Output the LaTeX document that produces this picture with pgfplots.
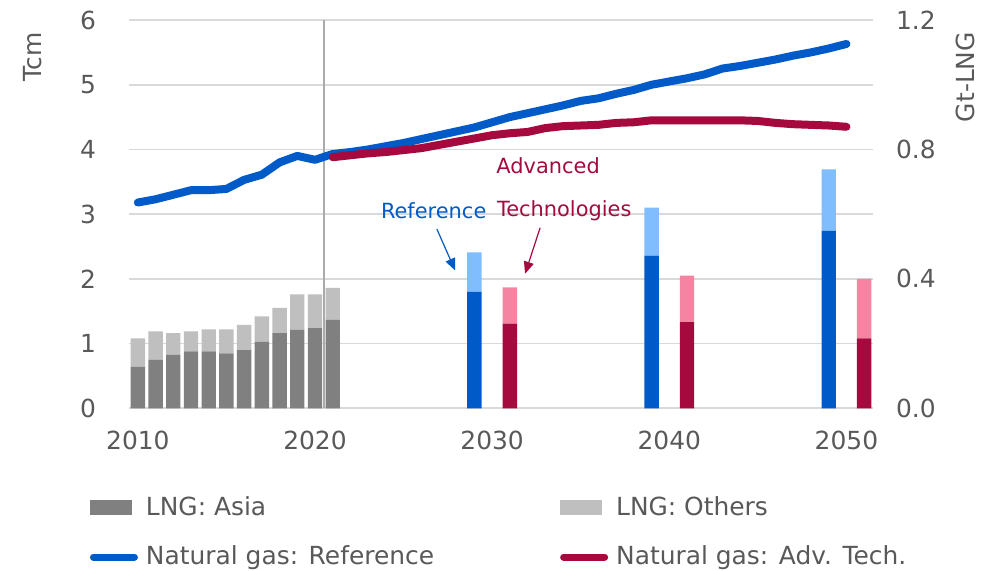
\documentclass[border=0pt]{standalone}
\usepackage{pgfplots}
\pgfplotsset{compat=1.18}
\usepackage{pgfplotstable}
\usepackage{fontspec}
\setmainfont{DejaVu Sans}
\usetikzlibrary{arrows.meta}
\definecolor{refblue}{RGB}{0,90,200}
\definecolor{lightblue}{RGB}{128,189,255}
\definecolor{crimson}{RGB}{166,9,61}
\definecolor{pink}{RGB}{244,132,162}
\definecolor{darkbar}{RGB}{128,128,128}
\definecolor{lightbar}{RGB}{191,191,191}
\definecolor{gridgray}{RGB}{217,217,217}
\definecolor{txtgray}{RGB}{89,89,89}
\definecolor{vgray}{RGB}{170,170,170}

% LNG trade, Gt-LNG
\pgfplotstableread{
year asia others refA refB advA advB
2010 0.128 0.088 0 0 0 0
2011 0.150 0.088 0 0 0 0
2012 0.166 0.066 0 0 0 0
2013 0.176 0.062 0 0 0 0
2014 0.176 0.068 0 0 0 0
2015 0.170 0.074 0 0 0 0
2016 0.180 0.078 0 0 0 0
2017 0.206 0.078 0 0 0 0
2018 0.232 0.078 0 0 0 0
2019 0.242 0.110 0 0 0 0
2020 0.248 0.104 0 0 0 0
2021 0.274 0.098 0 0 0 0
2029 0 0 0.360 0.122 0 0
2031 0 0 0 0 0.262 0.112
2039 0 0 0.472 0.148 0 0
2041 0 0 0 0 0.266 0.144
2049 0 0 0.548 0.190 0 0
2051 0 0 0 0 0.216 0.184
}\lngdata

% Natural gas demand, Tcm
\pgfplotstableread{
year val
2010 3.18
2011 3.23
2012 3.30
2013 3.37
2014 3.37
2015 3.39
2016 3.53
2017 3.61
2018 3.80
2019 3.90
2020 3.84
2021 3.93
2022 3.96
2023 4.00
2024 4.05
2025 4.10
2026 4.16
2027 4.22
2028 4.28
2029 4.34
2030 4.42
2031 4.50
2032 4.56
2033 4.62
2034 4.68
2035 4.75
2036 4.79
2037 4.86
2038 4.92
2039 5.00
2040 5.05
2041 5.10
2042 5.16
2043 5.25
2044 5.29
2045 5.34
2046 5.39
2047 5.45
2048 5.50
2049 5.56
2050 5.63
}\refgas

\pgfplotstableread{
year val
2021 3.88
2022 3.91
2023 3.94
2024 3.96
2025 3.99
2026 4.02
2027 4.07
2028 4.12
2029 4.17
2030 4.22
2031 4.25
2032 4.27
2033 4.33
2034 4.36
2035 4.37
2036 4.38
2037 4.41
2038 4.42
2039 4.45
2040 4.45
2041 4.45
2042 4.45
2043 4.45
2044 4.45
2045 4.44
2046 4.41
2047 4.39
2048 4.38
2049 4.37
2050 4.35
}\advgas

\pgfplotsset{
  common/.style={
    at={(64.5bp,81.35bp)}, anchor=south west,
    scale only axis, width=372bp, height=194.15bp,
    xmin=2009.5, xmax=2051.5,
    axis line style={draw=none},
    major tick length=0pt,
    clip mode=individual,
    /pgf/number format/assume math mode=true,
    tick label style={font=\fontsize{12.5}{15}\selectfont, text=txtgray},
  }
}

\begin{document}
\begin{tikzpicture}
\path[use as bounding box] (0,0) rectangle (494bp,285.5bp);

% left axis: grid, gas lines, x ticks
\begin{axis}[common,
  ymin=0, ymax=6, ytick={0,1,...,6},
  xtick={2010,2020,2030,2040,2050},
  xticklabel style={/pgf/number format/1000 sep={}, yshift=-8bp},
  yticklabel style={xshift=-13bp},
  ymajorgrids, grid style={draw=gridgray, line width=0.8bp},
]
\draw[vgray, line width=1bp] (axis cs:2020.5,0) -- (axis cs:2020.5,6);
\addplot[refblue, line width=4bp, line cap=round, line join=round] table[x=year,y=val] {\refgas};
\addplot[crimson, line width=4bp, line cap=round, line join=round] table[x=year,y=val] {\advgas};
\node[font=\fontsize{10.5}{12}\selectfont, text=crimson] at (axis cs:2033.16,3.75) {Advanced};
\node[font=\fontsize{10.5}{12}\selectfont, text=crimson] at (axis cs:2034.07,3.05) {Technologies};
\node[font=\fontsize{10.5}{12}\selectfont, text=refblue] at (axis cs:2026.7,3.05) {Reference};
\draw[refblue, line width=0.6bp, -{Triangle[length=6bp,width=5bp]}] (axis cs:2026.88,2.77) -- (axis cs:2027.91,2.13);
\draw[crimson, line width=0.6bp, -{Triangle[length=6bp,width=5bp]}] (axis cs:2032.71,2.79) -- (axis cs:2031.86,2.08);
\node[rotate=90, font=\fontsize{12.5}{15}\selectfont, text=txtgray] at (axis description cs:-0.130,0.905) {Tcm};
\node[rotate=90, font=\fontsize{12.5}{15}\selectfont, text=txtgray] at (axis description cs:1.124,0.853) {Gt-LNG};
\end{axis}

% right axis: LNG bars, legend
\begin{axis}[common,
  ymin=0, ymax=1.2, ytick={0,0.4,0.8,1.2},
  xtick=\empty,
  yticklabel pos=right,
  yticklabel style={/pgf/number format/fixed, /pgf/number format/fixed zerofill, /pgf/number format/precision=1, xshift=8bp},
  ybar stacked, bar width=7.2bp,
  legend columns=2,
  legend cell align=left,
  legend style={draw=none, fill=none, inner sep=0pt,
    at={(axis description cs:-0.053,-0.215)}, anchor=north west,
    font=\fontsize{12.5}{15}\selectfont, text=txtgray,
    /tikz/every even column/.append style={column sep=61bp},
    /tikz/every odd column/.append style={column sep=2bp},
    row sep=10bp},
]
\addplot[draw=none, fill=darkbar, legend image code/.code={\fill[darkbar] (0bp,-3.75bp) rectangle (21bp,3.75bp);}] table[x=year,y=asia] {\lngdata};
\addlegendentry{LNG: Asia}
\addplot[draw=none, fill=lightbar, legend image code/.code={\fill[lightbar] (0bp,-3.75bp) rectangle (21bp,3.75bp);}] table[x=year,y=others] {\lngdata};
\addlegendentry{LNG: Others}
\addlegendimage{legend image code/.code={\draw[refblue, line width=3.5bp, line cap=round] (1.75bp,0bp) -- (22.25bp,0bp);}}
\addlegendentry{Natural gas: Reference}
\addlegendimage{legend image code/.code={\draw[crimson, line width=3.5bp, line cap=round] (1.75bp,0bp) -- (22.25bp,0bp);}}
\addlegendentry{Natural gas: Adv. Tech.}
\addplot[draw=none, fill=refblue, forget plot] table[x=year,y=refA] {\lngdata};
\addplot[draw=none, fill=lightblue, forget plot] table[x=year,y=refB] {\lngdata};
\addplot[draw=none, fill=crimson, forget plot] table[x=year,y=advA] {\lngdata};
\addplot[draw=none, fill=pink, forget plot] table[x=year,y=advB] {\lngdata};
\end{axis}
\end{tikzpicture}
\end{document}
